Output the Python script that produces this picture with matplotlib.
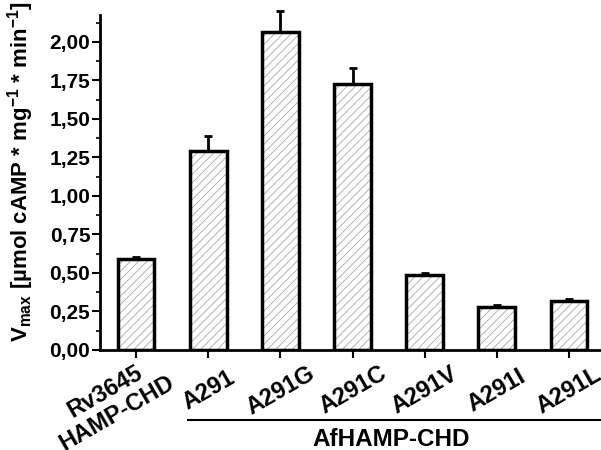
import numpy as np
import matplotlib.pyplot as plt
from matplotlib.ticker import MultipleLocator, FuncFormatter
from matplotlib.transforms import ScaledTranslation

# values
labels = ["Rv3645\nHAMP-CHD", "A291", "A291G", "A291C", "A291V", "A291I", "A291L"]
vmax = [0.59, 1.29, 2.065, 1.73, 0.49, 0.28, 0.32]
err = [0.012, 0.10, 0.135, 0.10, 0.012, 0.010, 0.012]

plt.rcParams['font.family'] = ['Liberation Sans', 'DejaVu Sans']
plt.rcParams['font.weight'] = 'bold'
plt.rcParams['mathtext.fontset'] = 'custom'
plt.rcParams['mathtext.rm'] = 'Liberation Sans:bold'
plt.rcParams['mathtext.bf'] = 'Liberation Sans:bold'
plt.rcParams['hatch.linewidth'] = 0.6

fig = plt.figure(figsize=(6.01, 4.5), dpi=100)
ax = fig.add_axes([100 / 601, 1 - 350 / 450, 505 / 601, 335 / 450])

x = np.arange(len(labels))
# hatch layer in light grey, then black outline on top
ax.bar(x, vmax, width=0.51, color='white', edgecolor='#a8a8a8', linewidth=0,
       hatch='////', zorder=2)
ax.bar(x, vmax, width=0.51, color='none', edgecolor='black', linewidth=2.5,
       zorder=3)
ax.errorbar(x, vmax, yerr=[np.zeros(len(err)), err], fmt='none', ecolor='black',
            elinewidth=2, capsize=3, capthick=2, zorder=1, clip_on=False)

ax.set_xlim(-0.5, 6.5)
ax.set_ylim(0, 2.175)
ax.yaxis.set_major_locator(MultipleLocator(0.25))
ax.yaxis.set_minor_locator(MultipleLocator(0.125))
ax.yaxis.set_major_formatter(FuncFormatter(lambda v, p: f"{v:.2f}".replace('.', ',')))

for side in ['top', 'right']:
    ax.spines[side].set_visible(False)
for side in ['left', 'bottom']:
    ax.spines[side].set_linewidth(2)

ax.tick_params(axis='y', which='major', direction='out', length=6, width=1.5,
               labelsize=15, pad=1)
ax.tick_params(axis='y', which='minor', direction='out', length=3, width=1.2)
ax.tick_params(axis='x', direction='out', length=6, width=1.5, labelsize=17, pad=23)

ax.set_xticks(x)
ax.set_xticklabels(labels, rotation=30, ha='center', va='center',
                   multialignment='center')
# the two-line label sits a bit left and lower in the original
first = ax.get_xticklabels()[0]
first.set_linespacing(1.1)
first.set_transform(first.get_transform() +
                    ScaledTranslation(-25 / 100, -12 / 100, fig.dpi_scale_trans))

ax.set_ylabel(r"V$_{\mathrm{max}}$ [µmol cAMP * mg$^{\mathrm{-1}}$ * min$^{\mathrm{-1}}$]",
              fontsize=16, fontweight='bold', va='center')
ax.yaxis.set_label_coords(-0.158, 0.534)

# group line and label under the AfHAMP-CHD variants
fig.add_artist(plt.Line2D([188 / 601, 1.0], [1 - 420 / 450, 1 - 420 / 450],
                          color='black', linewidth=1.5))
fig.text(391 / 601, 1 - 439 / 450, "AfHAMP-CHD", ha='center', va='center',
         fontsize=17.5, fontweight='bold')

fig.savefig("out.png", dpi=100)
